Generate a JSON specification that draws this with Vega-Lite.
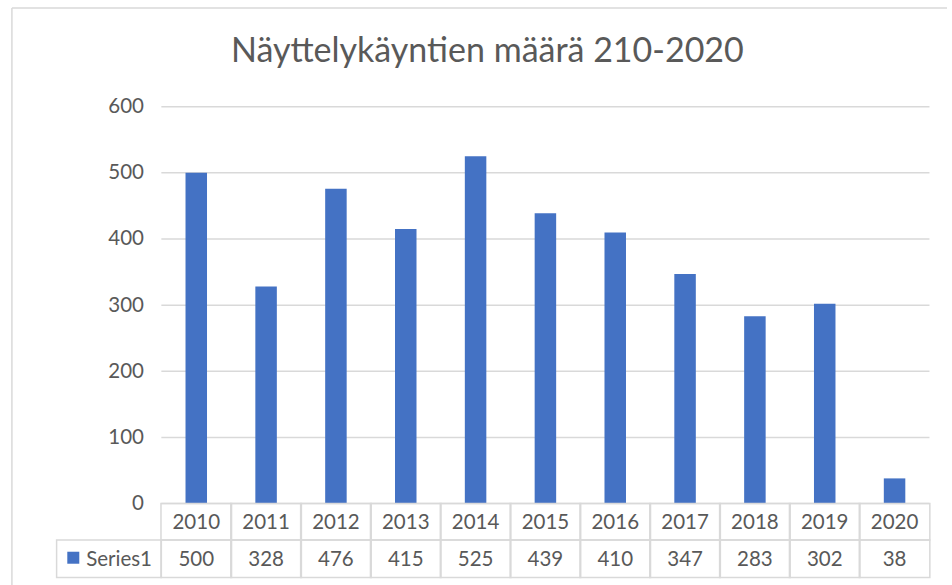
{
  "$schema": "https://vega.github.io/schema/vega-lite/v6.json",
  "width": 952,
  "height": 585,
  "padding": 0,
  "autosize": {"type": "none"},
  "background": "white",
  "config": {"view": {"stroke": null}, "font": "Lato"},
  "datasets": {
    "visits": [
      {"year": 2010, "visits": 500},
      {"year": 2011, "visits": 328},
      {"year": 2012, "visits": 476},
      {"year": 2013, "visits": 415},
      {"year": 2014, "visits": 525},
      {"year": 2015, "visits": 439},
      {"year": 2016, "visits": 410},
      {"year": 2017, "visits": 347},
      {"year": 2018, "visits": 283},
      {"year": 2019, "visits": 302},
      {"year": 2020, "visits": 38}
    ],
    "gridlines": [
      {"level": 0, "from": 2009.5, "to": 2020.5}, {"level": 100, "from": 2009.5, "to": 2020.5},
      {"level": 200, "from": 2009.5, "to": 2020.5}, {"level": 300, "from": 2009.5, "to": 2020.5},
      {"level": 400, "from": 2009.5, "to": 2020.5}, {"level": 500, "from": 2009.5, "to": 2020.5},
      {"level": 600, "from": 2009.5, "to": 2020.5}
    ],
    "labels": [
      {"title": "Näyttelykäyntien määrä 210-2020", "series": "Series1"}
    ]
  },
  "data": {"name": "visits"},
  "layer": [
    {
      "data": {"name": "gridlines"},
      "mark": {"type": "rule", "color": "#D9D9D9", "strokeWidth": 1.5},
      "encoding": {
        "x": {
          "field": "from",
          "type": "quantitative",
          "scale": {"domain": [2007.261, 2020.751], "nice": false, "zero": false},
          "axis": null
        },
        "x2": {"field": "to"},
        "y": {
          "field": "level",
          "type": "quantitative",
          "scale": {"domain": [-123.2, 761.4], "nice": false, "zero": false},
          "axis": {
            "values": [0, 100, 200, 300, 400, 500, 600],
            "offset": -158,
            "domain": false,
            "ticks": false,
            "tickSize": 0,
            "grid": false,
            "labelPadding": 14.5,
            "labelFont": "Lato",
            "labelFontSize": 20.5,
            "labelColor": "#595959",
            "labelFlush": false,
            "labelOverlap": false,
            "title": null
          }
        }
      }
    },
    {
      "data": {"name": "labels"},
      "mark": {"type": "rule", "color": "#D9D9D9", "strokeWidth": 1.5},
      "encoding": {
        "x": {"datum": 2007.36, "type": "quantitative"},
        "x2": {"datum": 2020.751},
        "y": {"datum": 749.2, "type": "quantitative"}
      }
    },
    {
      "data": {"name": "labels"},
      "mark": {"type": "rule", "color": "#D9D9D9", "strokeWidth": 1.5},
      "encoding": {
        "x": {"datum": 2007.36, "type": "quantitative"},
        "y": {"datum": 749.2, "type": "quantitative"},
        "y2": {"datum": -123.2}
      }
    },
    {
      "mark": {"type": "bar", "color": "#4472C4", "size": 21.5, "orient": "vertical"},
      "encoding": {
        "x": {"field": "year", "type": "quantitative"},
        "y": {"field": "visits", "type": "quantitative"},
        "y2": {"datum": 0}
      }
    },
    {
      "mark": {"type": "bar", "orient": "vertical", "size": 70.57, "fill": "white", "fillOpacity": 0, "stroke": "#D9D9D9", "strokeWidth": 1.5},
      "encoding": {
        "x": {"field": "year", "type": "quantitative"},
        "y": {"datum": 0, "type": "quantitative"},
        "y2": {"datum": -55.2}
      }
    },
    {
      "mark": {"type": "bar", "orient": "vertical", "size": 70.57, "fill": "white", "fillOpacity": 0, "stroke": "#D9D9D9", "strokeWidth": 1.5},
      "encoding": {
        "x": {"field": "year", "type": "quantitative"},
        "y": {"datum": -55.2, "type": "quantitative"},
        "y2": {"datum": -111.9}
      }
    },
    {
      "data": {"name": "labels"},
      "mark": {"type": "rect", "fill": "white", "fillOpacity": 0, "stroke": "#D9D9D9", "strokeWidth": 1.5},
      "encoding": {
        "x": {"datum": 2008.0, "type": "quantitative"},
        "x2": {"datum": 2009.5},
        "y": {"datum": -55.2, "type": "quantitative"},
        "y2": {"datum": -111.9}
      }
    },
    {
      "mark": {"type": "text", "font": "Lato", "fontSize": 20.5, "color": "#595959", "align": "center", "baseline": "alphabetic"},
      "encoding": {
        "x": {"field": "year", "type": "quantitative"},
        "y": {"datum": -38.9, "type": "quantitative"},
        "text": {"field": "year", "type": "quantitative", "format": "d"}
      }
    },
    {
      "mark": {"type": "text", "font": "Lato", "fontSize": 20.5, "color": "#595959", "align": "center", "baseline": "alphabetic"},
      "encoding": {
        "x": {"field": "year", "type": "quantitative"},
        "y": {"datum": -94.8, "type": "quantitative"},
        "text": {"field": "visits", "type": "quantitative", "format": "d"}
      }
    },
    {
      "data": {"name": "labels"},
      "mark": {"type": "point", "shape": "square", "filled": true, "size": 144, "color": "#4472C4", "opacity": 1},
      "encoding": {
        "x": {"datum": 2008.239, "type": "quantitative"},
        "y": {"datum": -81.96, "type": "quantitative"}
      }
    },
    {
      "data": {"name": "labels"},
      "mark": {"type": "text", "font": "Lato", "fontSize": 20.5, "color": "#595959", "align": "left", "baseline": "alphabetic"},
      "encoding": {
        "x": {"datum": 2008.423, "type": "quantitative"},
        "y": {"datum": -94.8, "type": "quantitative"},
        "text": {"field": "series", "type": "nominal"}
      }
    },
    {
      "data": {"name": "labels"},
      "mark": {"type": "text", "font": "Lato", "fontSize": 34, "color": "#595959", "align": "center", "baseline": "alphabetic"},
      "encoding": {
        "x": {"datum": 2014.169, "type": "quantitative"},
        "y": {"datum": 668.2, "type": "quantitative"},
        "text": {"field": "title", "type": "nominal"}
      }
    }
  ]
}
